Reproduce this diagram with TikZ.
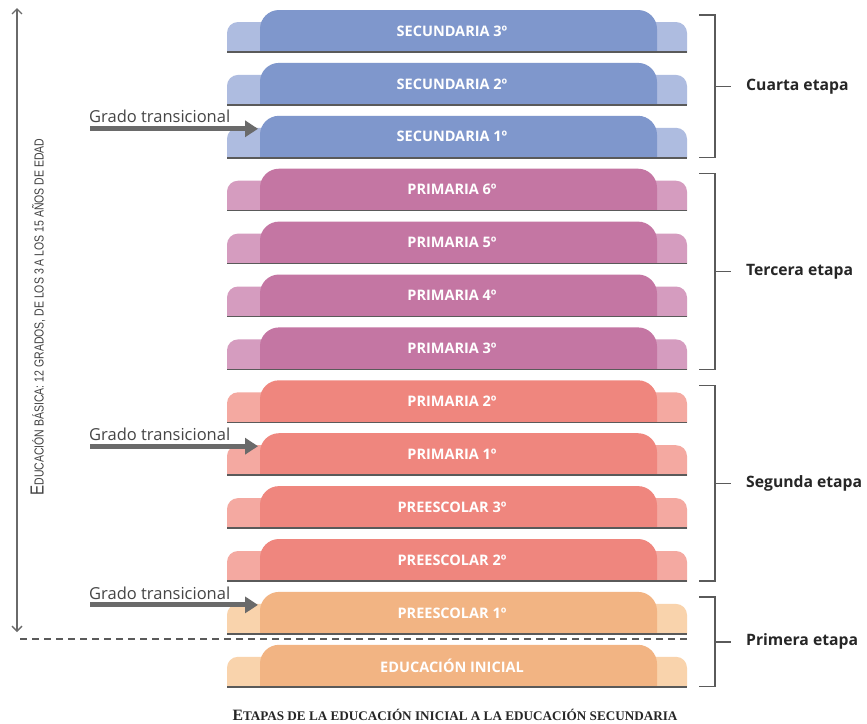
\documentclass[tikz,border=0pt]{standalone}
\usepackage{fontspec}
\setmainfont{Open Sans}
\newfontfamily\capfont{Liberation Serif}
\newfontfamily\narrowfont{Liberation Sans}
\usetikzlibrary{arrows.meta}
\definecolor{secM}{HTML}{7F97CC}
\definecolor{secT}{HTML}{AEBCE0}
\definecolor{priM}{HTML}{C476A3}
\definecolor{priT}{HTML}{D59CBF}
\definecolor{segM}{HTML}{EF867E}
\definecolor{segT}{HTML}{F4A9A1}
\definecolor{iniM}{HTML}{F2B483}
\definecolor{iniT}{HTML}{F9D3AC}
\definecolor{lineC}{HTML}{5A5A5A}
\definecolor{txtC}{HTML}{454545}
\definecolor{arrC}{HTML}{6A6A6A}
\tikzset{
  bartext/.style={text=white, font=\fontsize{14.5}{16}\selectfont\bfseries, inner sep=0pt},
  etapa/.style={text=black!85, font=\fontsize{15.7}{17}\selectfont\bfseries, anchor=west, inner sep=0pt},
  bracketline/.style={draw=lineC, line width=1.3pt},
  gradetxt/.style={text=txtC, font=\fontsize{16.5}{18}\selectfont, anchor=west, inner sep=0pt},
  gradearrow/.style={draw=arrC, line width=5pt, -{Triangle[length=13pt,width=16pt]}},
}
\begin{document}
\begin{tikzpicture}[x=1pt,y=-1pt]
\useasboundingbox (0,0) rectangle (867,723);
\fill[white] (0,0) rectangle (867,723);
\foreach \i/\m/\tb/\txt in {0/secM/secT/SECUNDARIA 3º,1/secM/secT/SECUNDARIA 2º,2/secM/secT/SECUNDARIA 1º,
  3/priM/priT/PRIMARIA 6º,4/priM/priT/PRIMARIA 5º,5/priM/priT/PRIMARIA 4º,6/priM/priT/PRIMARIA 3º,
  7/segM/segT/PRIMARIA 2º,8/segM/segT/PRIMARIA 1º,9/segM/segT/PREESCOLAR 3º,10/segM/segT/PREESCOLAR 2º,
  11/iniM/iniT/PREESCOLAR 1º,12/iniM/iniT/EDUCACIÓN INICIAL}{
  \pgfmathsetmacro\tp{10+52.9*\i}
  \begin{scope}
    \clip (200,\tp-2) rectangle (720,\tp+42);
    \fill[\tb, rounded corners=11pt] (227,\tp+12) rectangle (300,\tp+70);
    \fill[\tb, rounded corners=11pt] (620,\tp+12) rectangle (687,\tp+70);
    \fill[\m, rounded corners=19pt] (260,\tp) rectangle (657,\tp+70);
  \end{scope}
  \draw[lineC, line width=1.5pt] (227,\tp+42) -- (687,\tp+42);
  \node[bartext] (b\i) at (452,\tp+21) {\txt};
  \coordinate (bl\i) at (258,\tp+13);
}
% brackets
\foreach \n/\a/\b/\lab in {c/0/2/Cuarta etapa, t/3/6/Tercera etapa, s/7/10/Segunda etapa, p/11/12/Primera etapa}{
  \pgfmathsetmacro\ya{15+52.9*\a}
  \pgfmathsetmacro\yb{52+52.9*\b}
  \pgfmathsetmacro\ym{(\ya+\yb)/2}
  \draw[bracketline] (699,\ya) -- (715,\ya) -- (715,\yb) -- (699,\yb);
  \draw[bracketline] (715,\ym) -- (731,\ym);
  \node[etapa] (e\n) at (746,\ym) {\lab};
}
% grado transicional
\foreach \i in {2,8,11}{
  \pgfmathsetmacro\tp{10+52.9*\i}
  \node[gradetxt] (g\i) at (89,\tp+1) {Grado transicional};
  \coordinate (gs\i) at (90,\tp+13);
  \draw[gradearrow] (gs\i) -- (bl\i);
}
% left vertical arrow
\coordinate (vtop) at (17,8);
\coordinate (vbot) at (17,632);
\draw[arrC, line width=1.3pt, {Straight Barb[length=5pt,width=10pt]}-{Straight Barb[length=5pt,width=10pt]}] (vtop) -- (vbot);
\node[rotate=90, text=black!75, inner sep=0pt] (vt) at (38,317)
  {\resizebox{357pt}{13pt}{\narrowfont {\Large E}DUCACIÓN BÁSICA: 12 GRADOS, DE LOS 3 A LOS 15 AÑOS DE EDAD}};
% dashed separator
\draw[lineC, line width=1.2pt, dash pattern=on 7pt off 5pt] (20,639) -- (690,639);
% caption
\node[inner sep=0pt, text=black!85] (cap) at (455,715)
  {\resizebox{445pt}{!}{\capfont\bfseries {\large E}TAPAS DE LA EDUCACIÓN INICIAL A LA EDUCACIÓN SECUNDARIA}};
\end{tikzpicture}
\end{document}
